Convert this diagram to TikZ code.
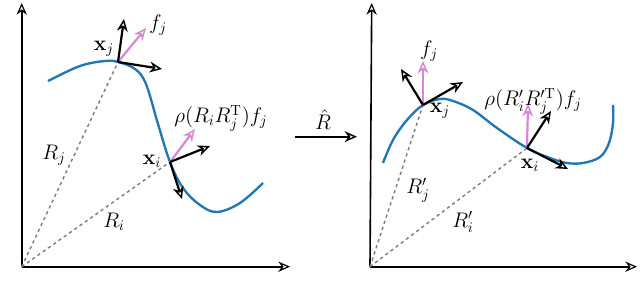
\documentclass[tikz,border=0pt]{standalone}
\usepackage{amsmath,amssymb}
\usetikzlibrary{positioning,arrows.meta,calc}
\definecolor{curveblue}{RGB}{31,119,180}
\definecolor{featpink}{RGB}{215,135,215}

\begin{document}
\begin{tikzpicture}[x=0.024cm,y=-0.024cm,every node/.style={font=\fontsize{14}{17}\selectfont},
  axisline/.style={line width=1.1pt,-{Stealth[open,length=8pt,width=7pt,line width=0.8pt]}},
  frame/.style={line width=1.5pt,-{Stealth[open,length=8.5pt,width=7.5pt,line width=1pt]}},
  feat/.style={featpink,line width=1.5pt,-{Stealth[open,length=8.5pt,width=7.5pt,line width=1pt]}},
  posline/.style={gray,line width=1pt,dash pattern=on 2.2pt off 2.2pt},
  curveline/.style={curveblue,line width=1.6pt}]
\useasboundingbox (0,0) rectangle (640,305);
% left panel: before rotation
\coordinate (O1) at (21.7,266.7);
\coordinate (xj1) at (118,62);
\coordinate (xi1) at (170,162);
\draw[axisline] (O1) -- (290,266.7);
\draw[axisline] (O1) -- (21.7,3);
\draw[posline] (O1) -- (xj1);
\draw[posline] (O1) -- (xi1);
\draw[curveline] plot[smooth,tension=0.6] coordinates {(48,81) (80,66) (105,61) (xj1) (135,69) (146,84) (158,124) (xi1) (183,188) (200,205) (217,212) (240,203) (263,183)};
\coordinate (xj1a) at (124,19);
\coordinate (xj1b) at (162,69);
\coordinate (xj1f) at (146,28);
\coordinate (xi1a) at (210,146);
\coordinate (xi1b) at (182,199);
\coordinate (xi1f) at (195,129);
\draw[feat] (xj1) -- (xj1f);
\draw[frame] (xj1) -- (xj1a);
\draw[frame] (xj1) -- (xj1b);
\draw[feat] (xi1) -- (xi1f);
\draw[frame] (xi1) -- (xi1a);
\draw[frame] (xi1) -- (xi1b);
\node (lxj1) at (104,49) {$\mathbf{x}_j$};
\node (lxi1) at (152,161) {$\mathbf{x}_i$};
\node (lfj1) at (158,25) {$f_j$};
\node (lrho1) at (221,118) {$\rho(R_iR_j^{\mathrm{T}})f_j$};
\node (lRj1) at (54,155) {$R_j$};
\node (lRi1) at (114,222) {$R_i$};
% rotation arrow
\coordinate (ra) at (295,136.7);
\coordinate (rb) at (357,136.7);
\draw[frame,line width=1.1pt] (ra) -- (rb);
\node (lrot) at (323,120) {$\hat{R}$};
% right panel: after rotation
\coordinate (O2) at (370,266.7);
\coordinate (xj2) at (423,105);
\coordinate (xi2) at (527,148);
\draw[axisline] (O2) -- (637,266.7);
\draw[axisline] (O2) -- (371.7,3);
\draw[posline] (O2) -- (xj2);
\draw[posline] (O2) -- (xi2);
\draw[curveline] plot[smooth,tension=0.6] coordinates {(383,163) (393,140) (407,120) (xj2) (440,99) (453,101) (473,110) (497,128) (xi2) (550,158) (567,163) (583,163) (600,157) (609,143) (613,123) (613,105)};
\coordinate (xj2a) at (401,69);
\coordinate (xj2b) at (463,82);
\coordinate (xj2f) at (423,61);
\coordinate (xi2a) at (551,111);
\coordinate (xi2b) at (568,169);
\coordinate (xi2f) at (528,104);
\draw[feat] (xj2) -- (xj2f);
\draw[frame] (xj2) -- (xj2a);
\draw[frame] (xj2) -- (xj2b);
\draw[feat] (xi2) -- (xi2f);
\draw[frame] (xi2) -- (xi2a);
\draw[frame] (xi2) -- (xi2b);
\node (lxj2) at (440,111) {$\mathbf{x}_j$};
\node (lxi2) at (530,165) {$\mathbf{x}_i$};
\node (lfj2) at (429,51) {$f_j$};
\node (lrho2) at (533,101) {$\rho(R'_iR_j^{\prime\mathrm{T}})f_j$};
\node (lRj2) at (418,190) {$R'_j$};
\node (lRi2) at (463,222) {$R'_i$};
\end{tikzpicture}
\end{document}
